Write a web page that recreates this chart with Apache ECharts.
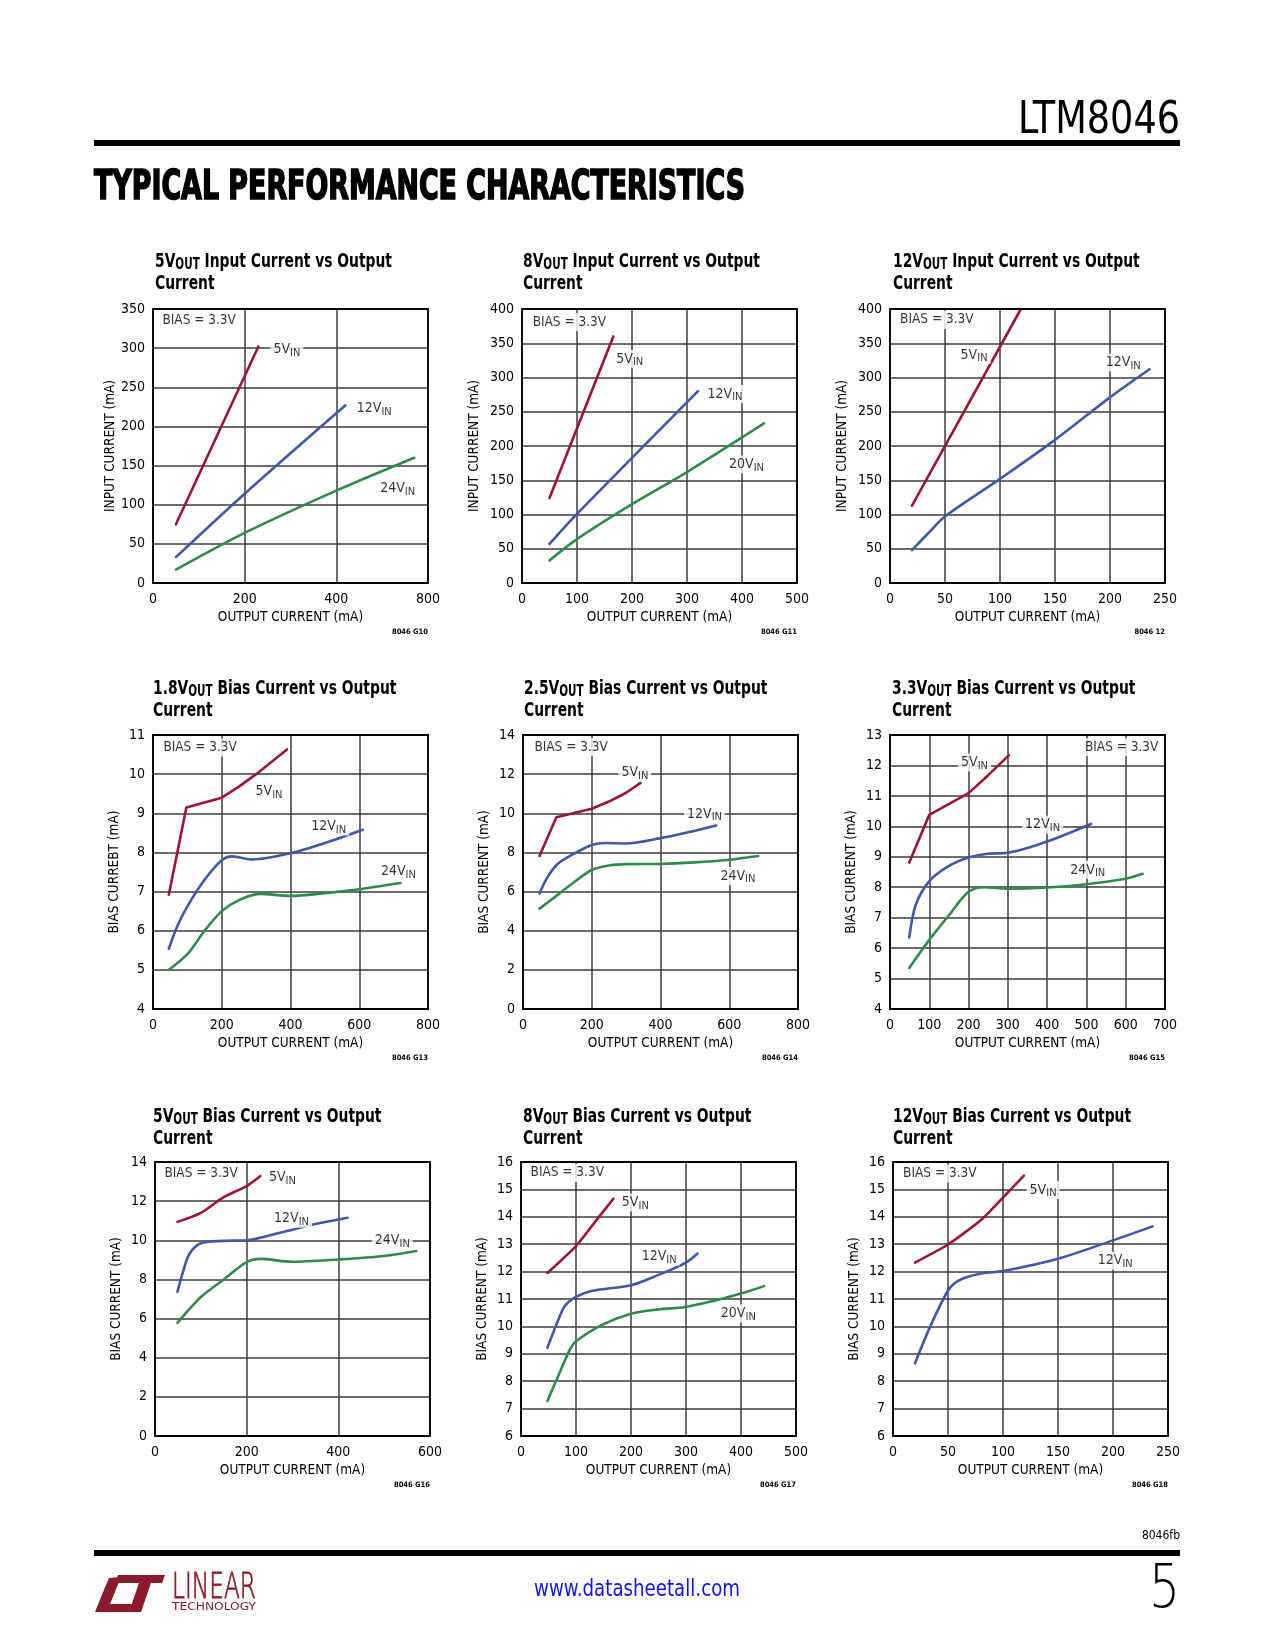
<!DOCTYPE html>
<html><head><meta charset="utf-8">
<script src="https://cdn.jsdelivr.net/npm/echarts@6/dist/echarts.min.js"></script>
<style>html,body{margin:0;padding:0;background:#fff}#c{width:1275px;height:1650px}</style>
</head><body><div id="c"></div>
<script>
// ---------------- DATA ----------------
// G10: 5VOUT input current vs output current
const g1_5vin  = [[50,75],[230,302]];
const g1_12vin = [[50,33],[200,114],[420,227]];
const g1_24vin = [[50,17],[200,64],[400,118],[570,160]];
const g1_xTicks = ['0','200','400','800'];
const g1_labels = [[255,298,'5V','IN'],[437,223,'12V','IN'],[488,121,'24V','IN']];
// G11: 8VOUT input current
const g2_5vin  = [[50,124],[166,360]];
const g2_12vin = [[50,57],[100,101],[320,280]];
const g2_20vin = [[50,33],[100,64],[200,115],[300,162],[440,233]];
const g2_labels = [[165,327,'5V','IN'],[331,276,'12V','IN'],[370,173,'20V','IN']];
// G12: 12VOUT input current
const g3_5vin  = [[20,113],[119,400]];
const g3_12vin = [[20,48],[35,73],[50,97],[100,152],[150,209],[200,271],[236,312]];
const g3_labels = [[61,333,'5V','IN'],[193,322,'12V','IN']];
// G13: 1.8VOUT bias current
const g4_5vin  = [[46,6.92],[97,9.15],[200,9.40],[250,9.68],[300,10.0],[390,10.63]];
const g4_12vin = [[46,5.54],[70,6.1],[100,6.62],[150,7.3],[200,7.8],[230,7.9],[290,7.82],[400,7.98],[500,8.24],[610,8.58]];
const g4_24vin = [[46,5.0],[100,5.4],[150,6.0],[200,6.5],[250,6.78],[310,6.94],[400,6.89],[500,6.96],[600,7.06],[720,7.22]];
const g4_labels = [[288,9.55,'5V','IN'],[450,8.66,'12V','IN'],[653,7.51,'24V','IN']];
// G14: 2.5VOUT bias current
const g5_5vin  = [[48,7.82],[97,9.80],[200,10.23],[250,10.6],[300,11.05],[342,11.55]];
const g5_12vin = [[48,5.9],[70,6.7],[100,7.4],[150,7.95],[200,8.38],[240,8.48],[300,8.46],[400,8.73],[480,9.03],[562,9.38]];
const g5_24vin = [[48,5.13],[100,5.82],[150,6.5],[200,7.1],[250,7.33],[300,7.4],[400,7.41],[500,7.49],[600,7.63],[684,7.82]];
const g5_labels = [[276,12.1,'5V','IN'],[467,9.97,'12V','IN'],[564,6.8,'24V','IN']];
// G15: 3.3VOUT bias current
const g6_5vin  = [[49,8.81],[100,10.38],[200,11.09],[250,11.68],[303,12.34]];
const g6_12vin = [[49,6.35],[65,7.4],[100,8.2],[150,8.7],[200,8.98],[250,9.1],[300,9.13],[400,9.5],[512,10.08]];
const g6_24vin = [[49,5.35],[100,6.27],[150,7.08],[200,7.85],[240,8.0],[300,7.95],[400,7.99],[500,8.1],[600,8.28],[643,8.44]];
const g6_labels = [[172,12.1,'5V','IN'],[335,10.05,'12V','IN'],[450,8.57,'24V','IN']];
// G16: 5VOUT bias current
const g7_5vin  = [[49,10.94],[100,11.4],[150,12.2],[200,12.77],[230,13.28]];
const g7_12vin = [[49,7.37],[60,8.3],[75,9.3],[100,9.85],[150,9.97],[200,10.0],[275,10.4],[350,10.83],[420,11.15]];
const g7_24vin = [[49,5.78],[100,7.1],[150,8.0],[200,8.88],[230,9.05],[300,8.9],[400,9.02],[500,9.2],[570,9.45]];
const g7_labels = [[241,13.2,'5V','IN'],[252,11.1,'12V','IN'],[472,10.0,'24V','IN']];
// G17: 8VOUT bias current
const g8_5vin  = [[48,11.95],[100,12.93],[140,13.95],[168,14.66]];
const g8_12vin = [[48,9.22],[65,10.1],[80,10.75],[100,11.08],[130,11.3],[200,11.5],[250,11.88],[300,12.33],[321,12.66]];
const g8_20vin = [[48,7.28],[70,8.3],[90,9.2],[100,9.46],[150,10.08],[200,10.46],[250,10.62],[300,10.71],[350,10.93],[400,11.2],[442,11.47]];
const g8_labels = [[177,14.52,'5V','IN'],[213,12.54,'12V','IN'],[357,10.47,'20V','IN']];
// G18: 12VOUT bias current
const g9_5vin  = [[20,12.33],[50,12.99],[80,13.88],[100,14.7],[119,15.5]];
const g9_12vin = [[20,8.65],[33,9.92],[50,11.3],[60,11.68],[80,11.93],[100,12.02],[150,12.47],[200,13.14],[236,13.65]];
const g9_labels = [[121,14.98,'5V','IN'],[183,12.4,'12V','IN']];

// ---------------- STYLE / LAYOUT ----------------
const RED='#9B1532', BLUE='#4058A8', GREEN='#2F8A4C';
const FONT="'DejaVu Sans Condensed','DejaVu Sans',sans-serif";

const charts = [
 {pos:[153,309], tpos:[155,251], t:['5V','OUT',' Input Current vs Output'], x:[0,600,200], xTicks:g1_xTicks, y:[0,350,50], yName:'INPUT CURRENT (mA)', yGap:35,
  s:[[g1_5vin,RED,0],[g1_12vin,BLUE,0.3],[g1_24vin,GREEN,0.3]], lab:g1_labels, bias:[13,335,'r'], note:'8046 G10'},
 {pos:[522,309], tpos:[523,251], t:['8V','OUT',' Input Current vs Output'], x:[0,500,100], y:[0,400,50], yName:'INPUT CURRENT (mA)', yGap:41,
  s:[[g2_5vin,RED,0],[g2_12vin,BLUE,0.3],[g2_20vin,GREEN,0.3]], lab:g2_labels, bias:[13,381,'r'], note:'8046 G11'},
 {pos:[890,309], tpos:[893,251], t:['12V','OUT',' Input Current vs Output'], x:[0,250,50], y:[0,400,50], yName:'INPUT CURRENT (mA)', yGap:41,
  s:[[g3_5vin,RED,0],[g3_12vin,BLUE,0.35]], lab:g3_labels, bias:[6,384,'r'], note:'8046 12'},
 {pos:[153,735], tpos:[153,678], t:['1.8V','OUT',' Bias Current vs Output'], x:[0,800,200], y:[4,11,1], yName:'BIAS CURREBT (mA)', yGap:32,
  s:[[g4_5vin,RED,0],[g4_12vin,BLUE,0.3],[g4_24vin,GREEN,0.3]], lab:g4_labels, bias:[20,10.68,'r'], note:'8046 G13'},
 {pos:[523,735], tpos:[524,678], t:['2.5V','OUT',' Bias Current vs Output'], x:[0,800,200], y:[0,14,2], yName:'BIAS CURRENT (mA)', yGap:32,
  s:[[g5_5vin,RED,0],[g5_12vin,BLUE,0.3],[g5_24vin,GREEN,0.3]], lab:g5_labels, bias:[23,13.37,'r'], note:'8046 G14'},
 {pos:[890,735], tpos:[892,678], t:['3.3V','OUT',' Bias Current vs Output'], x:[0,700,100], y:[4,13,1], yName:'BIAS CURRENT (mA)', yGap:32,
  s:[[g6_5vin,RED,0],[g6_12vin,BLUE,0.3],[g6_24vin,GREEN,0.3]], lab:g6_labels, bias:[692,12.6,'l'], note:'8046 G15'},
 {pos:[155,1162], tpos:[153,1106], t:['5V','OUT',' Bias Current vs Output'], x:[0,600,200], y:[0,14,2], yName:'BIAS CURRENT (mA)', yGap:32,
  s:[[g7_5vin,RED,0.3],[g7_12vin,BLUE,0.3],[g7_24vin,GREEN,0.3]], lab:g7_labels, bias:[13,13.4,'r'], note:'8046 G16'},
 {pos:[521,1162], tpos:[523,1106], t:['8V','OUT',' Bias Current vs Output'], x:[0,500,100], y:[6,16,1], yName:'BIAS CURRENT (mA)', yGap:32,
  s:[[g8_5vin,RED,0.2],[g8_12vin,BLUE,0.3],[g8_20vin,GREEN,0.3]], lab:g8_labels, bias:[11,15.6,'r'], note:'8046 G17'},
 {pos:[893,1162], tpos:[893,1106], t:['12V','OUT',' Bias Current vs Output'], x:[0,250,50], y:[6,16,1], yName:'BIAS CURRENT (mA)', yGap:32,
  s:[[g9_5vin,RED,0.2],[g9_12vin,BLUE,0.3]], lab:g9_labels, bias:[6,15.58,'r'], note:'8046 G18'}
];

function measure(t, font){const cx=document.createElement('canvas').getContext('2d'); cx.font=font; return cx.measureText(t).width;}

const PW=275, PH=274;
const option = {animation:false, backgroundColor:'#fff', grid:[], xAxis:[], yAxis:[], series:[], graphic:[]};
const txt = {fontFamily:FONT, color:'#000', fontSize:13.5};
const labRich = {m:{fontFamily:FONT,fontSize:14,lineHeight:18,color:'#000'}, s:{fontFamily:FONT,fontSize:11,lineHeight:10,verticalAlign:'bottom',color:'#000'}};
const TB = "bold 20px "+FONT, TS = "bold 15px "+FONT;
const titleScale = 237/(measure('5V Input Current vs Output', TB)+measure('OUT', TS));

charts.forEach((c,i)=>{
  option.graphic.push({type:'text', x:c.tpos[0], y:c.tpos[1], scaleX:titleScale, silent:true, z:10,
    style:{text:'{b|'+c.t[0]+'}{s|'+c.t[1]+'}{b|'+c.t[2]+'}\n{b|Current}', align:'left', verticalAlign:'top',
      rich:{
        b:{fontFamily:FONT,fontWeight:'bold',fontSize:20,lineHeight:22,fill:'#000'},
        s:{fontFamily:FONT,fontWeight:'bold',fontSize:15,lineHeight:14,verticalAlign:'bottom',fill:'#000'}}}});
  option.grid.push({left:c.pos[0], top:c.pos[1], width:PW, height:PH, show:true, borderColor:'#000', borderWidth:1.8, backgroundColor:'rgba(0,0,0,0)', z:4});
  const xl = {margin:9, ...txt, fontSize:14};
  if (c.xTicks) xl.formatter = v => c.xTicks[Math.round((v-c.x[0])/c.x[2])];
  option.xAxis.push({type:'value', gridIndex:i, min:c.x[0], max:c.x[1], interval:c.x[2],
    name:'OUTPUT CURRENT (mA)', nameLocation:'middle', nameGap:27, nameTextStyle:{...txt},
    axisLine:{show:false}, axisTick:{show:false}, axisLabel:xl,
    splitLine:{show:true, lineStyle:{color:'#3c3c3c', width:1.5}}});
  option.yAxis.push({type:'value', gridIndex:i, min:c.y[0], max:c.y[1], interval:c.y[2],
    name:c.yName, nameLocation:'middle', nameGap:c.yGap, nameRotate:90, nameTextStyle:{...txt},
    axisLine:{show:false}, axisTick:{show:false}, axisLabel:{margin:8, ...txt, fontSize:14},
    splitLine:{show:true, lineStyle:{color:'#3c3c3c', width:1.5}}});
  c.s.forEach(s=>{
    option.series.push({type:'line', xAxisIndex:i, yAxisIndex:i, data:s[0], symbol:'none',
      smooth:s[2]||false, silent:true, z:3,
      lineStyle:{color:s[1], width:2.6, cap:'round', join:'round'}});
  });
  const ld = c.lab.map(l=>({value:[l[0],l[1]], label:{formatter:'{m|'+l[2]+'}{s|'+l[3]+'}'}}));
  ld.push({value:[c.bias[0],c.bias[1]], label:{formatter:'{m|BIAS = 3.3V}', position:c.bias[2]==='l'?'left':'right',
    rich:{m:{fontFamily:FONT,fontSize:13.5,lineHeight:18,color:'#000'}}}});
  option.series.push({type:'scatter', xAxisIndex:i, yAxisIndex:i, data:ld, symbol:'circle', symbolSize:1,
    itemStyle:{color:'rgba(0,0,0,0)'}, silent:true, z:6,
    label:{show:true, position:'right', distance:0, backgroundColor:'#fff', padding:[0,3], rich:labRich}});
  option.graphic.push({type:'text', x:c.pos[0]+PW, y:c.pos[1]+PH+49, silent:true,
    style:{text:c.note, align:'right', verticalAlign:'middle', font:"bold 7.5px "+FONT, fill:'#000'}});
});

// ---------------- page decorations ----------------
const headFont = "bold 40px 'DejaVu Sans Condensed','DejaVu Sans',sans-serif";
const headTxt = 'TYPICAL PERFORMANCE CHARACTERISTICS';
const headScale = 651/measure(headTxt, headFont);
const urlFont = "23px "+FONT, urlTxt = 'www.datasheetall.com';
const urlScale = 206/measure(urlTxt, urlFont);
const ltmFont = "300 44px 'DejaVu Sans Condensed','DejaVu Sans',sans-serif", ltmTxt='LTM8046';
const ltmScale = 162/measure(ltmTxt, ltmFont);
const pgFont = "200 60px 'DejaVu Sans',sans-serif";
const pgScale = 31/measure('5', pgFont);
const linFont = "200 36px 'DejaVu Sans',sans-serif";
const linScale = 84/measure('LINEAR', linFont);
const techFont = "11px 'DejaVu Sans',sans-serif";
const techScale = 84/measure('TECHNOLOGY', techFont);
const LOGO='#8B1A2B';
option.graphic.push(
  {type:'text', x:1180, y:122, scaleX:ltmScale, silent:true, style:{text:ltmTxt, align:'right', verticalAlign:'middle', font:ltmFont, fill:'#000'}},
  {type:'rect', silent:true, shape:{x:94, y:140, width:1086, height:6}, style:{fill:'#000'}},
  {type:'text', x:94, y:189, scaleX:headScale, silent:true, style:{text:headTxt, align:'left', verticalAlign:'middle', font:headFont, fill:'#000', stroke:'#000', lineWidth:1.6}},
  {type:'text', x:1180, y:1536, silent:true, style:{text:'8046fb', align:'right', verticalAlign:'middle', font:"12px "+FONT, fill:'#000'}},
  {type:'rect', silent:true, shape:{x:94, y:1550, width:1086, height:6}, style:{fill:'#000'}},
  {type:'text', x:637-103, y:1590, scaleX:urlScale, silent:true, style:{text:urlTxt, align:'left', verticalAlign:'middle', font:urlFont, fill:'#1212ee'}},
  {type:'text', x:1180, y:1591, scaleX:pgScale, silent:true, style:{text:'5', align:'right', verticalAlign:'middle', font:pgFont, fill:'#000'}},
  {type:'polygon', silent:true, shape:{points:[[95,1612],[129,1612],[132,1604],[110,1604],[121,1577],[109,1578],[101,1597]]}, style:{fill:LOGO}},
  {type:'polygon', silent:true, shape:{points:[[118,1575],[165,1575],[162,1583],[151,1583],[141,1612],[129,1612],[139,1583],[115,1583]]}, style:{fill:LOGO}},
  {type:'text', x:172, y:1589, scaleX:linScale, silent:true, style:{text:'LINEAR', align:'left', verticalAlign:'middle', font:linFont, fill:LOGO, stroke:LOGO, lineWidth:0.8}},
  {type:'text', x:172, y:1607, scaleX:techScale, silent:true, style:{text:'TECHNOLOGY', align:'left', verticalAlign:'middle', font:techFont, fill:LOGO}}
);

const chart = echarts.init(document.getElementById('c'), null, {renderer:'canvas'});
chart.setOption(option);
</script></body></html>
